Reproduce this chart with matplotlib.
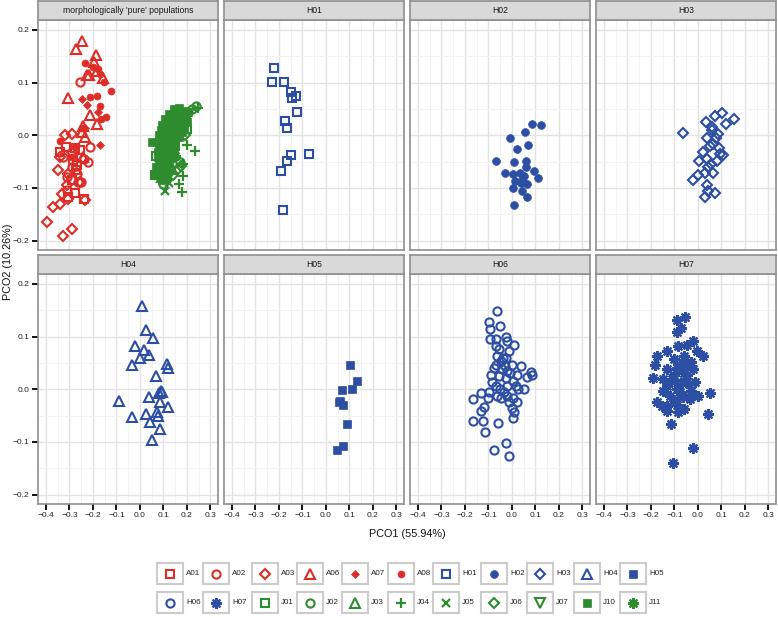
import matplotlib
matplotlib.use('Agg')
import matplotlib.pyplot as plt
from matplotlib.patches import Rectangle
from matplotlib.ticker import FixedLocator, FixedFormatter

plt.rcParams['font.family'] = ['Liberation Sans', 'DejaVu Sans']

RED = '#DE2D26'
BLUE = '#2C4EA3'
GREEN = '#2E8B2E'

# ---------------- data (PCO1, PCO2) ----------------
a01_x = [-0.340, -0.316, -0.277, -0.284, -0.272, -0.291, -0.277, -0.305, -0.237, -0.255, -0.270]
a01_y = [-0.032, -0.022, -0.025, -0.047, -0.066, -0.085, -0.109, -0.117, -0.122, -0.028, -0.057]
a02_x = [-0.255, -0.213, -0.220, -0.291, -0.312, -0.262, -0.250, -0.312, -0.270, -0.326, -0.240]
a02_y = [0.101, -0.022, -0.051, -0.060, -0.079, -0.089, -0.089, -0.104, -0.073, -0.041, -0.045]
a03_x = [-0.319, -0.291, -0.340, -0.348, -0.305, -0.312, -0.255, -0.333, -0.369, -0.340, -0.305, -0.397, -0.326, -0.291, -0.234, -0.291]
a03_y = [0.000, 0.003, -0.041, -0.066, -0.073, -0.095, -0.089, -0.111, -0.136, -0.130, -0.122, -0.164, -0.191, -0.178, -0.123, -0.032]
a06_x = [-0.248, -0.272, -0.187, -0.194, -0.216, -0.184, -0.159, -0.305, -0.213, -0.184, -0.244, -0.248, -0.234, -0.244, -0.227]
a06_y = [0.180, 0.164, 0.152, 0.139, 0.114, 0.123, 0.109, 0.071, 0.038, 0.022, 0.017, 0.006, -0.003, -0.041, 0.114]
a07_x = [-0.248, -0.226, -0.177, -0.170, -0.234]
a07_y = [0.068, 0.057, 0.044, -0.019, 0.013]
a08_x = [-0.234, -0.199, -0.177, -0.170, -0.153, -0.123, -0.181, -0.213, -0.170, -0.145, -0.166, -0.248, -0.340, -0.277, -0.291]
a08_y = [0.138, 0.130, 0.126, 0.117, 0.101, 0.085, 0.075, 0.073, 0.055, 0.034, 0.030, 0.013, -0.011, -0.022, -0.041]

h01_x = [-0.220, -0.228, -0.179, -0.150, -0.128, -0.143, -0.123, -0.173, -0.167, -0.071, -0.150, -0.166, -0.193, -0.182]
h01_y = [0.127, 0.102, 0.102, 0.082, 0.075, 0.070, 0.045, 0.027, 0.013, -0.035, -0.037, -0.048, -0.068, -0.142]
h02_x = [0.084, 0.125, 0.055, -0.007, 0.069, 0.020, -0.069, 0.010, 0.058, 0.058, -0.030, 0.006,
         0.033, 0.094, 0.011, 0.044, 0.065, 0.112, 0.006, 0.044, 0.062, 0.007, 0.050, 0.038]
h02_y = [0.021, 0.020, 0.006, -0.006, -0.018, -0.027, -0.048, -0.050, -0.048, -0.060, -0.071, -0.073,
         -0.071, -0.068, -0.087, -0.085, -0.092, -0.082, -0.100, -0.106, -0.118, -0.133, -0.078, -0.090]
h03_x = [-0.062, 0.101, 0.072, 0.034, 0.155, 0.119, 0.058, 0.086, 0.037, 0.065, 0.023, 0.094, 0.108, 0.080, 0.006,
         0.044, 0.030, 0.065, 0.001, -0.020, 0.037, 0.044, 0.072, 0.030, 0.050, 0.075, 0.060, 0.090, 0.040, 0.055]
h03_y = [0.005, 0.043, 0.037, 0.025, 0.030, 0.021, 0.016, 0.003, -0.006, -0.016, -0.032, -0.036, -0.038, -0.048, -0.048,
         -0.060, -0.071, -0.071, -0.076, -0.085, -0.095, -0.105, -0.110, -0.117, -0.020, -0.005, 0.010, -0.025, -0.045, -0.055]
h04_x = [0.010, 0.024, 0.057, -0.021, 0.018, 0.038, 0.000, -0.033, 0.114, 0.118, 0.068, 0.089, 0.080,
         0.095, 0.038, -0.088, 0.085, 0.118, 0.071, -0.033, 0.024, 0.078, 0.043, 0.085, 0.052]
h04_y = [0.158, 0.112, 0.097, 0.082, 0.075, 0.066, 0.060, 0.047, 0.048, 0.040, 0.025, -0.003, -0.008,
         -0.005, -0.015, -0.022, -0.024, -0.033, -0.044, -0.052, -0.047, -0.051, -0.063, -0.075, -0.096]
h05_x = [0.102, 0.133, 0.112, 0.069, 0.055, 0.074, 0.088, 0.074, 0.048, 0.060]
h05_y = [0.047, 0.016, 0.000, -0.002, -0.025, -0.030, -0.066, -0.108, -0.115, -0.023]
h06_x = [-0.062, -0.098, -0.051, -0.094, -0.095, -0.068, -0.027, -0.020, 0.009, -0.068, -0.055, -0.013,
         -0.062, -0.027, -0.048, -0.068, 0.001, 0.037, -0.041, -0.020, -0.091, -0.055, 0.023, 0.080,
         0.084, 0.065, 0.006, -0.027, -0.084, 0.015, -0.068, -0.020, 0.051, 0.027, -0.098, -0.133,
         -0.062, -0.048, -0.020, 0.006, -0.166, -0.101, -0.013, 0.023, -0.119, 0.001, -0.133, 0.010,
         0.006, -0.166, -0.122, -0.061, -0.115, -0.027, -0.077, -0.013,
         -0.040, -0.030, -0.010, -0.050, -0.035, -0.075]
h06_y = [0.149, 0.128, 0.120, 0.114, 0.095, 0.096, 0.099, 0.092, 0.084, 0.082, 0.076, 0.073,
         0.063, 0.060, 0.054, 0.047, 0.047, 0.044, 0.038, 0.035, 0.028, 0.025, 0.028, 0.032,
         0.027, 0.024, 0.016, 0.022, 0.013, 0.006, 0.006, 0.006, 0.000, 0.000, -0.006, -0.008,
         -0.013, -0.016, -0.013, -0.016, -0.018, -0.017, -0.025, -0.025, -0.033, -0.035, -0.041, -0.043,
         -0.054, -0.060, -0.060, -0.065, -0.082, -0.103, -0.116, -0.127,
         0.060, 0.045, 0.030, 0.000, -0.005, 0.040]
h07_x = [-0.055, -0.091, -0.072, -0.091, -0.020, -0.048, -0.084, -0.133, -0.176, 0.023, -0.006,
         -0.061, -0.101, -0.031, -0.183, -0.076, -0.133, -0.020, -0.048, -0.101, -0.190, -0.147,
         -0.061, -0.013, -0.133, -0.091, -0.031, -0.147, -0.076, -0.118, 0.051, 0.001, -0.034,
         -0.176, -0.133, -0.091, -0.155, -0.133, -0.084, -0.061, 0.044, -0.116, -0.020, -0.108,
         -0.070, -0.050, -0.090, -0.060, -0.110, -0.040, -0.080, -0.065, -0.100]
h07_y = [0.137, 0.132, 0.117, 0.109, 0.092, 0.085, 0.082, 0.073, 0.063, 0.063, 0.073,
         0.063, 0.057, 0.051, 0.047, 0.041, 0.038, 0.038, 0.028, 0.028, 0.022, 0.019,
         0.016, 0.013, 0.006, 0.000, -0.003, -0.003, -0.006, -0.013, -0.008, -0.013, -0.019,
         -0.024, -0.032, -0.029, -0.032, -0.041, -0.044, -0.038, -0.047, -0.066, -0.111, -0.140,
         0.050, 0.045, 0.040, 0.030, 0.020, 0.010, 0.010, -0.015, -0.020]

j10_x = [0.145, 0.165, 0.185, 0.205,
         0.125, 0.150, 0.172, 0.195,
         0.105, 0.128, 0.152, 0.178, 0.200,
         0.095, 0.118, 0.140, 0.163, 0.188,
         0.088, 0.108, 0.130, 0.155, 0.178,
         0.082, 0.103, 0.125, 0.148, 0.168,
         0.050, 0.083, 0.105, 0.128, 0.150,
         0.080, 0.100, 0.122, 0.143,
         0.078, 0.098, 0.120, 0.140,
         0.076, 0.097, 0.118, 0.135,
         0.080, 0.100, 0.122,
         0.070, 0.092, 0.112,
         0.062, 0.082, 0.102,
         0.092, 0.110]
j10_y = [0.050, 0.052, 0.047, 0.044,
         0.040, 0.041, 0.038, 0.036,
         0.030, 0.031, 0.029, 0.027, 0.026,
         0.020, 0.021, 0.019, 0.018, 0.016,
         0.010, 0.011, 0.009, 0.008, 0.006,
         0.000, 0.001, -0.001, -0.002, -0.004,
         -0.013, -0.010, -0.011, -0.012, -0.014,
         -0.021, -0.020, -0.022, -0.024,
         -0.031, -0.030, -0.032, -0.034,
         -0.041, -0.040, -0.042, -0.043,
         -0.051, -0.050, -0.052,
         -0.061, -0.060, -0.062,
         -0.074, -0.072, -0.070,
         -0.085, -0.083]
j01_x = [0.070, 0.062, 0.085, 0.175, 0.200, 0.150, 0.110]
j01_y = [-0.040, -0.075, -0.068, 0.020, 0.012, -0.020, -0.050]
j02_x = [0.240, 0.222, 0.205, 0.110, 0.100, 0.170]
j02_y = [0.055, 0.050, 0.045, -0.060, -0.092, -0.050]
j03_x = [0.115, 0.135, 0.095]
j03_y = [-0.045, -0.065, -0.080]
j04_x = [0.248, 0.199, 0.234, 0.184, 0.182, 0.167, 0.177]
j04_y = [0.052, -0.019, -0.030, -0.054, -0.078, -0.092, -0.108]
j05_x = [0.106, 0.125]
j05_y = [-0.105, -0.090]
j06_x = [0.175, 0.160, 0.190, 0.140, 0.120]
j06_y = [-0.058, -0.065, 0.000, -0.075, -0.030]
j07_x = [0.100, 0.130]
j07_y = [-0.082, -0.070]
j11_x = [0.115, 0.150]
j11_y = [-0.070, -0.040]

group_data = {
    'A01': (a01_x, a01_y), 'A02': (a02_x, a02_y), 'A03': (a03_x, a03_y), 'A06': (a06_x, a06_y),
    'A07': (a07_x, a07_y), 'A08': (a08_x, a08_y),
    'H01': (h01_x, h01_y), 'H02': (h02_x, h02_y), 'H03': (h03_x, h03_y), 'H04': (h04_x, h04_y),
    'H05': (h05_x, h05_y), 'H06': (h06_x, h06_y), 'H07': (h07_x, h07_y),
    'J01': (j01_x, j01_y), 'J02': (j02_x, j02_y), 'J03': (j03_x, j03_y), 'J04': (j04_x, j04_y),
    'J05': (j05_x, j05_y), 'J06': (j06_x, j06_y), 'J07': (j07_x, j07_y), 'J10': (j10_x, j10_y),
    'J11': (j11_x, j11_y),
}

legend_order = ['A01', 'A02', 'A03', 'A06', 'A07', 'A08', 'H01', 'H02', 'H03', 'H04', 'H05',
                'H06', 'H07', 'J01', 'J02', 'J03', 'J04', 'J05', 'J06', 'J07', 'J10', 'J11']

panel_titles = ["morphologically 'pure' populations", 'H01', 'H02', 'H03', 'H04', 'H05', 'H06', 'H07']
panel_groups = [
    ['J10', 'A01', 'A02', 'A03', 'A06', 'A07', 'A08', 'J01', 'J02', 'J03', 'J04', 'J05', 'J06', 'J07', 'J11'],
    ['H01'], ['H02'], ['H03'], ['H04'], ['H05'], ['H06'], ['H07'],
]

x_ticks = [-0.4, -0.3, -0.2, -0.1, 0.0, 0.1, 0.2, 0.3]
x_ticklabels = ['\u22120.4', '\u22120.3', '\u22120.2', '\u22120.1', '0.0', '0.1', '0.2', '0.3']
y_ticks = [-0.2, -0.1, 0.0, 0.1, 0.2]
y_ticklabels = ['\u22120.2', '\u22120.1', '0.0', '0.1', '0.2']
x_title = 'PCO1 (55.94%)'
y_title = 'PCO2 (10.26%)'

# ---------------- styles ----------------
def col(g):
    return {'A': RED, 'H': BLUE, 'J': GREEN}[g[0]]

# marker, filled, markersize, edge width
shape = {
    'A01': ('s', False, 5.6, 1.5), 'A02': ('o', False, 5.9, 1.5), 'A03': ('D', False, 5.6, 1.5),
    'A06': ('^', False, 6.8, 1.5), 'A07': ('D', True, 4.0, 0.5), 'A08': ('o', True, 5.0, 0.5),
    'H01': ('s', False, 5.6, 1.5), 'H02': ('o', True, 5.6, 0.5), 'H03': ('D', False, 5.6, 1.5),
    'H04': ('^', False, 6.8, 1.5), 'H05': ('s', True, 5.2, 0.5), 'H06': ('o', False, 5.9, 1.5),
    'H07': ((8, 2, 0), False, 7.8, 1.6),
    'J01': ('s', False, 5.6, 1.5), 'J02': ('o', False, 5.9, 1.5), 'J03': ('^', False, 6.8, 1.5),
    'J04': ('+', False, 7.8, 1.6), 'J05': ('x', False, 6.0, 1.6), 'J06': ('D', False, 5.6, 1.5),
    'J07': ('v', False, 6.8, 1.5), 'J10': ('s', True, 5.4, 0.5), 'J11': ((8, 2, 0), False, 7.8, 1.6),
}

def plot_group(ax, g, xs, ys):
    m, filled, ms, mew = shape[g]
    c = col(g)
    ax.plot(xs, ys, linestyle='none', marker=m, markersize=ms, markeredgewidth=mew,
            markeredgecolor=c, markerfacecolor=(c if filled else 'none'), zorder=3,
            clip_on=True)

# ---------------- layout ----------------
W, H = 778, 618
fig = plt.figure(figsize=(W / 100, H / 100), dpi=100)

def ax_at(x0, y0, w, h):
    return fig.add_axes([x0 / W, 1 - (y0 + h) / H, w / W, h / H])

BORDER = '#8f8f8f'
panel_w = 180
col_left = [38 + 186 * c for c in range(4)]
row_top = [20, 274]
row_strip = [1, 255]
panel_h = 230
strip_h = 19

for i, title in enumerate(panel_titles):
    r, c = divmod(i, 4)
    ax = ax_at(col_left[c], row_top[r], panel_w, panel_h)
    ax.set_xlim(-0.434, 0.332)
    ax.set_ylim(-0.218, 0.219)
    ax.set_facecolor('white')
    ax.xaxis.set_major_locator(FixedLocator(x_ticks))
    ax.yaxis.set_major_locator(FixedLocator(y_ticks))
    ax.xaxis.set_minor_locator(FixedLocator([-0.35, -0.25, -0.15, -0.05, 0.05, 0.15, 0.25]))
    ax.yaxis.set_minor_locator(FixedLocator([-0.15, -0.05, 0.05, 0.15]))
    ax.grid(True, which='major', color='#e3e3e3', linewidth=1.0, zorder=0)
    ax.grid(True, which='minor', color='#f3f3f3', linewidth=0.7, zorder=0)
    ax.set_axisbelow(True)
    ax.tick_params(which='minor', length=0)
    ax.tick_params(which='major', direction='out', length=4, width=1.3, color='black',
                   labelsize=6.0, labelcolor='#222222', pad=2)
    if c == 0:
        ax.yaxis.set_major_formatter(FixedFormatter(y_ticklabels))
    else:
        ax.tick_params(axis='y', which='major', left=False, labelleft=False)
    if r == 1:
        ax.xaxis.set_major_formatter(FixedFormatter(x_ticklabels))
    else:
        ax.tick_params(axis='x', which='major', bottom=False, labelbottom=False)
    for s in ax.spines.values():
        s.set_color(BORDER)
        s.set_linewidth(1.2)
    for g in panel_groups[i]:
        xs, ys = group_data[g]
        plot_group(ax, g, xs, ys)

    sax = ax_at(col_left[c], row_strip[r], panel_w, strip_h)
    sax.set_facecolor('#d9d9d9')
    sax.set_xticks([])
    sax.set_yticks([])
    for s in sax.spines.values():
        s.set_color(BORDER)
        s.set_linewidth(1.2)
    sax.text(0.5, 0.48, title, transform=sax.transAxes, ha='center', va='center',
             fontsize=6.2, color='#1a1a1a')

# axis titles
fig.text(407 / W, 1 - 534 / H, x_title, ha='center', va='center', fontsize=7.8, color='#111111')
fig.text(8 / W, 1 - 262 / H, y_title, ha='center', va='center', fontsize=7.8, color='#111111',
         rotation=90)

# ---------------- legend ----------------
lax = fig.add_axes([0, 0, 1, 1], facecolor='none')
lax.set_xlim(0, W)
lax.set_ylim(H, 0)
lax.axis('off')
key_left = [157, 203, 252, 297, 342, 388, 433, 481, 527, 574, 620]
key_top = [563, 592]
key_w, key_h = 26, 21
for k, g in enumerate(legend_order):
    r, c = divmod(k, 11)
    x0 = key_left[c]
    y0 = key_top[r]
    lax.add_patch(Rectangle((x0, y0), key_w, key_h, facecolor='white', edgecolor='#cccccc',
                            linewidth=1.5, zorder=1))
    m, filled, ms, mew = shape[g]
    cc = col(g)
    lax.plot([x0 + key_w / 2], [y0 + key_h / 2], linestyle='none', marker=m, markersize=ms,
             markeredgewidth=mew, markeredgecolor=cc, markerfacecolor=(cc if filled else 'none'),
             zorder=2, clip_on=False)
    lax.text(x0 + key_w + 3, y0 + key_h / 2, g, ha='left', va='center', fontsize=5.8,
             color='#222222')

fig.savefig('out.png', dpi=100)
